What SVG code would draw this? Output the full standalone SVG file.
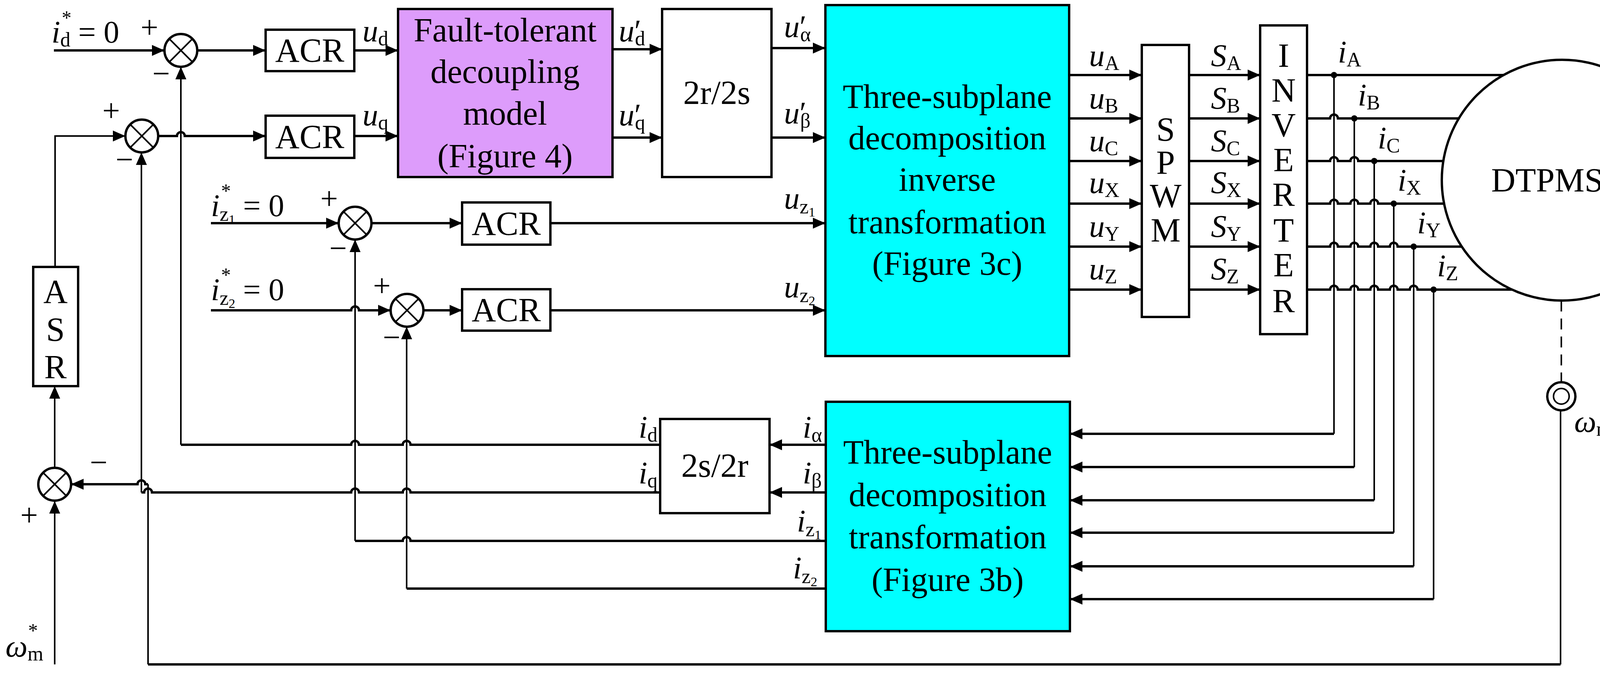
<svg xmlns="http://www.w3.org/2000/svg" width="4345" height="1722" viewBox="0 0 4345 1722">
<defs>
<style>
text{font-family:"Liberation Serif","Times New Roman",serif;fill:#000}
.big{font-size:86px}
.c{text-anchor:middle}
.it{font-style:italic}
.v{font-size:80px}
.s{font-size:52px;font-style:normal}
.box{fill:#fff;stroke:#000;stroke-width:6}
.w{fill:none;stroke:#000;stroke-width:6}
.t{fill:none;stroke:#000;stroke-width:4}
.a{marker-end:url(#ar)}
</style>
<marker id="ar" markerUnits="userSpaceOnUse" markerWidth="32" markerHeight="28" refX="32" refY="14" orient="auto"><path d="M0,0 L32,14 L0,28 z" fill="#000"/></marker>
</defs>
<rect width="4345" height="1722" fill="#fff"/>

<g id="connectors">
<path class="w a" d="M138,129 H421"/>
<path class="w a" d="M505,129 H680"/>
<path class="w a" d="M907,129 H1019"/>
<path class="t a" d="M141,683 V348 H321"/>
<path class="w a" d="M405,348 H453 a10,10 0 0 1 20,0 H680"/>
<path class="w a" d="M907,348 H1019"/>
<path class="w a" d="M1568,126 H1695"/>
<path class="w a" d="M1568,352 H1695"/>
<path class="w a" d="M1975,123 H2113"/>
<path class="w a" d="M1975,352 H2113"/>
<path class="w a" d="M540,571 H867"/>
<path class="w a" d="M951,571 H1183"/>
<path class="w a" d="M1409,571 H2113"/>
<path class="w a" d="M540,794 H899 a10,10 0 0 1 20,0 H1000"/>
<path class="w a" d="M1084,794 H1183"/>
<path class="w a" d="M1409,794 H2113"/>
<path class="w a" d="M2737,192 H2923"/><path class="w a" d="M2737,303 H2923"/><path class="w a" d="M2737,412 H2923"/>
<path class="w a" d="M2737,521 H2923"/><path class="w a" d="M2737,631 H2923"/><path class="w a" d="M2737,741 H2923"/>
<path class="w a" d="M3044,192 H3226"/><path class="w a" d="M3044,303 H3226"/><path class="w a" d="M3044,412 H3226"/>
<path class="w a" d="M3044,521 H3226"/><path class="w a" d="M3044,631 H3226"/><path class="w a" d="M3044,741 H3226"/>
<path class="w" d="M3346,192 H3849"/>
<path class="w" d="M3346,303 H3405 a10,10 0 0 1 20,0 H3735"/>
<path class="w" d="M3346,412 H3405 a10,10 0 0 1 20,0 H3457 a10,10 0 0 1 20,0 H3695"/>
<path class="w" d="M3346,521 H3405 a10,10 0 0 1 20,0 H3457 a10,10 0 0 1 20,0 H3508 a10,10 0 0 1 20,0 H3697"/>
<path class="w" d="M3346,631 H3405 a10,10 0 0 1 20,0 H3457 a10,10 0 0 1 20,0 H3508 a10,10 0 0 1 20,0 H3558 a10,10 0 0 1 20,0 H3742"/>
<path class="w" d="M3346,741 H3405 a10,10 0 0 1 20,0 H3457 a10,10 0 0 1 20,0 H3508 a10,10 0 0 1 20,0 H3558 a10,10 0 0 1 20,0 H3609 a10,10 0 0 1 20,0 H3871"/>
<path class="t" d="M3415,192 V1110"/><path class="w a" d="M3415,1110 H2739"/>
<path class="t" d="M3467,303 V1195"/><path class="w a" d="M3467,1195 H2739"/>
<path class="t" d="M3518,412 V1280"/><path class="w a" d="M3518,1280 H2739"/>
<path class="t" d="M3568,521 V1363"/><path class="w a" d="M3568,1363 H2739"/>
<path class="t" d="M3619,631 V1449"/><path class="w a" d="M3619,1449 H2739"/>
<path class="t" d="M3670,741 V1533"/><path class="w a" d="M3670,1533 H2739"/>
<g fill="#000"><circle cx="3415" cy="192" r="8"/><circle cx="3467" cy="303" r="8"/><circle cx="3518" cy="412" r="8"/><circle cx="3568" cy="521" r="8"/><circle cx="3619" cy="631" r="8"/><circle cx="3670" cy="741" r="8"/></g>
<path class="w a" d="M2114,1138 H1970"/>
<path class="w a" d="M2114,1260 H1970"/>
<path class="w" d="M1690,1138 H1051 a10,10 0 0 0 -20,0 H919 a10,10 0 0 0 -20,0 H463"/><path class="t a" d="M463,1138 V171"/>
<path class="w" d="M1690,1260 H1051 a10,10 0 0 0 -20,0 H919 a10,10 0 0 0 -20,0 H389 a10,10 0 0 0 -20,0 H362"/><path class="t a" d="M362,1260 V390"/>
<path class="w" d="M2114,1384 H1051 a10,10 0 0 0 -20,0 H909"/><path class="t a" d="M909,1384 V613"/>
<path class="w" d="M2114,1506 H1041"/><path class="t a" d="M1041,1506 V836"/>
<path class="t" d="M3995,1050 V1700"/>
<path class="w" d="M3995,1700 H379"/>
<path class="t" d="M379,1700 V1239"/>
<path class="w a" d="M379,1239 H372 a10,10 0 0 0 -20,0 H182"/>
<path class="t" d="M3997,769 V978" stroke-dasharray="28,18"/>
<path class="t a" d="M140,1700 V1282"/>
<path class="t a" d="M140,1196 V988"/>
</g>

<g id="sum1"><circle cx="463" cy="129" r="42" class="box"/><path class="t" d="M433,99 L493,159 M493,99 L433,159"/></g>
<g id="sum2"><circle cx="363" cy="348" r="42" class="box"/><path class="t" d="M333,318 L393,378 M393,318 L333,378"/></g>
<g id="sum3"><circle cx="909" cy="571" r="42" class="box"/><path class="t" d="M879,541 L939,601 M939,541 L879,601"/></g>
<g id="sum4"><circle cx="1042" cy="794" r="42" class="box"/><path class="t" d="M1012,764 L1072,824 M1072,764 L1012,824"/></g>
<g id="sum5"><circle cx="140" cy="1239" r="42" class="box"/><path class="t" d="M110,1209 L170,1269 M170,1209 L110,1269"/></g>

<g id="acr1"><rect x="680" y="76" width="227" height="106" class="box"/><text x="793" y="158" class="big c">ACR</text></g>
<g id="acr2"><rect x="680" y="296" width="227" height="108" class="box"/><text x="793" y="379" class="big c">ACR</text></g>
<g id="acr3"><rect x="1183" y="518" width="226" height="108" class="box"/><text x="1296" y="601" class="big c">ACR</text></g>
<g id="acr4"><rect x="1183" y="740" width="226" height="106" class="box"/><text x="1296" y="822" class="big c">ACR</text></g>
<g id="asr"><rect x="85" y="683" width="115" height="305" class="box"/>
<text x="142" y="775" class="big c">A</text><text x="142" y="872" class="big c">S</text><text x="142" y="968" class="big c">R</text></g>

<g id="fault"><rect x="1019" y="23" width="549" height="430" fill="#dd9cfb" stroke="#000" stroke-width="6"/>
<text class="big c" x="1293" y="106">Fault-tolerant</text><text class="big c" x="1293" y="212">decoupling</text><text class="big c" x="1293" y="319">model</text><text class="big c" x="1293" y="428">(Figure 4)</text></g>
<g id="r2s"><rect x="1695" y="23" width="280" height="430" class="box"/><text class="big c" x="1835" y="266">2r/2s</text></g>
<g id="inv3c"><rect x="2113" y="13" width="624" height="898" fill="#00ffff" stroke="#000" stroke-width="6"/>
<text class="big c" x="2425" y="276">Three-subplane</text><text class="big c" x="2425" y="382">decomposition</text><text class="big c" x="2425" y="488">inverse</text><text class="big c" x="2425" y="597">transformation</text><text class="big c" x="2425" y="703">(Figure 3c)</text></g>
<g id="spwm"><rect x="2923" y="115" width="121" height="696" class="box"/>
<text class="big c" x="2984" y="360">S</text><text class="big c" x="2984" y="445">P</text><text class="big c" x="2984" y="530">W</text><text class="big c" x="2984" y="618">M</text></g>
<g id="inverter"><rect x="3226" y="65" width="120" height="790" class="box"/>
<text class="big c" x="3286" y="171">I</text><text class="big c" x="3286" y="260">N</text><text class="big c" x="3286" y="349">V</text><text class="big c" x="3286" y="438">E</text><text class="big c" x="3286" y="527">R</text><text class="big c" x="3286" y="618">T</text><text class="big c" x="3286" y="707">E</text><text class="big c" x="3286" y="799">R</text></g>
<g id="motor"><circle cx="3999" cy="461" r="308" class="box"/><text class="big c" x="3999" y="490">DTPMSM</text></g>
<g id="encoder"><circle cx="3997" cy="1014" r="36" class="box" stroke-width="4"/><circle cx="3997" cy="1014" r="20" class="t"/></g>
<g id="s2r"><rect x="1690" y="1072" width="280" height="241" class="box"/><text class="big c" x="1830" y="1220">2s/2r</text></g>
<g id="dec3b"><rect x="2114" y="1028" width="625" height="587" fill="#00ffff" stroke="#000" stroke-width="6"/>
<text class="big c" x="2426" y="1186">Three-subplane</text><text class="big c" x="2426" y="1295">decomposition</text><text class="big c" x="2426" y="1403">transformation</text><text class="big c" x="2426" y="1512">(Figure 3b)</text></g>

<g id="labels" class="v">
<text x="132" y="109"><tspan class="it">i</tspan><tspan class="s" dy="10">d</tspan><tspan dy="-10"> = 0</tspan></text><text x="158" y="62" font-size="50">*</text>
<text x="540" y="553"><tspan class="it">i</tspan><tspan class="s" dy="12">z</tspan><tspan font-size="34" dy="8">1</tspan><tspan dy="-20"> = 0</tspan></text><text x="566" y="505" font-size="50">*</text>
<text x="540" y="768"><tspan class="it">i</tspan><tspan class="s" dy="12">z</tspan><tspan font-size="34" dy="8">2</tspan><tspan dy="-20"> = 0</tspan></text><text x="566" y="720" font-size="50">*</text>
<text x="360" y="97">+</text><text x="390" y="215">−</text>
<text x="262" y="310">+</text><text x="296" y="435">−</text>
<text x="820" y="535">+</text><text x="843" y="662">−</text>
<text x="955" y="758">+</text><text x="980" y="890">−</text>
<text x="52" y="1345">+</text><text x="230" y="1210">−</text>
<text x="928" y="106"><tspan class="it">u</tspan><tspan class="s" dy="10">d</tspan></text>
<text x="928" y="321"><tspan class="it">u</tspan><tspan class="s" dy="10">q</tspan></text>
<text x="1584" y="106"><tspan class="it">u</tspan><tspan>′</tspan><tspan class="s" dx="-16" dy="10">d</tspan></text>
<text x="1584" y="321"><tspan class="it">u</tspan><tspan>′</tspan><tspan class="s" dx="-16" dy="10">q</tspan></text>
<text x="2007" y="95"><tspan class="it">u</tspan><tspan>′</tspan><tspan class="s" dx="-16" dy="10">α</tspan></text>
<text x="2007" y="316"><tspan class="it">u</tspan><tspan>′</tspan><tspan class="s" dx="-16" dy="10">β</tspan></text>
<text x="2007" y="534"><tspan class="it">u</tspan><tspan class="s" dy="12">z</tspan><tspan font-size="34" dy="8">1</tspan></text>
<text x="2007" y="761"><tspan class="it">u</tspan><tspan class="s" dy="12">z</tspan><tspan font-size="34" dy="8">2</tspan></text>
<text x="2788" y="169"><tspan class="it">u</tspan><tspan class="s" dy="10">A</tspan></text>
<text x="2788" y="278"><tspan class="it">u</tspan><tspan class="s" dy="10">B</tspan></text>
<text x="2788" y="387"><tspan class="it">u</tspan><tspan class="s" dy="10">C</tspan></text>
<text x="2788" y="494"><tspan class="it">u</tspan><tspan class="s" dy="10">X</tspan></text>
<text x="2788" y="606"><tspan class="it">u</tspan><tspan class="s" dy="10">Y</tspan></text>
<text x="2788" y="715"><tspan class="it">u</tspan><tspan class="s" dy="10">Z</tspan></text>
<text x="3100" y="169"><tspan class="it">S</tspan><tspan class="s" dy="10">A</tspan></text>
<text x="3100" y="278"><tspan class="it">S</tspan><tspan class="s" dy="10">B</tspan></text>
<text x="3100" y="387"><tspan class="it">S</tspan><tspan class="s" dy="10">C</tspan></text>
<text x="3100" y="494"><tspan class="it">S</tspan><tspan class="s" dy="10">X</tspan></text>
<text x="3100" y="606"><tspan class="it">S</tspan><tspan class="s" dy="10">Y</tspan></text>
<text x="3100" y="715"><tspan class="it">S</tspan><tspan class="s" dy="10">Z</tspan></text>
<text x="3425" y="160"><tspan class="it">i</tspan><tspan class="s" dy="10">A</tspan></text>
<text x="3476" y="270"><tspan class="it">i</tspan><tspan class="s" dy="10">B</tspan></text>
<text x="3527" y="380"><tspan class="it">i</tspan><tspan class="s" dy="10">C</tspan></text>
<text x="3578" y="488"><tspan class="it">i</tspan><tspan class="s" dy="10">X</tspan></text>
<text x="3628" y="597"><tspan class="it">i</tspan><tspan class="s" dy="10">Y</tspan></text>
<text x="3679" y="707"><tspan class="it">i</tspan><tspan class="s" dy="10">Z</tspan></text>
<text x="1635" y="1120"><tspan class="it">i</tspan><tspan class="s" dy="10">d</tspan></text>
<text x="1635" y="1237"><tspan class="it">i</tspan><tspan class="s" dy="10">q</tspan></text>
<text x="2055" y="1120"><tspan class="it">i</tspan><tspan class="s" dy="10">α</tspan></text>
<text x="2055" y="1237"><tspan class="it">i</tspan><tspan class="s" dy="10">β</tspan></text>
<text x="2040" y="1360"><tspan class="it">i</tspan><tspan class="s" dy="12">z</tspan><tspan font-size="34" dy="8">1</tspan></text>
<text x="2030" y="1480"><tspan class="it">i</tspan><tspan class="s" dy="12">z</tspan><tspan font-size="34" dy="8">2</tspan></text>
<text x="4030" y="1105"><tspan class="it">ω</tspan><tspan class="s" dy="10">m</tspan></text>
<text x="14" y="1680"><tspan class="it">ω</tspan><tspan class="s" dy="10">m</tspan></text><text x="72" y="1630" font-size="50">*</text>
</g>
</svg>
